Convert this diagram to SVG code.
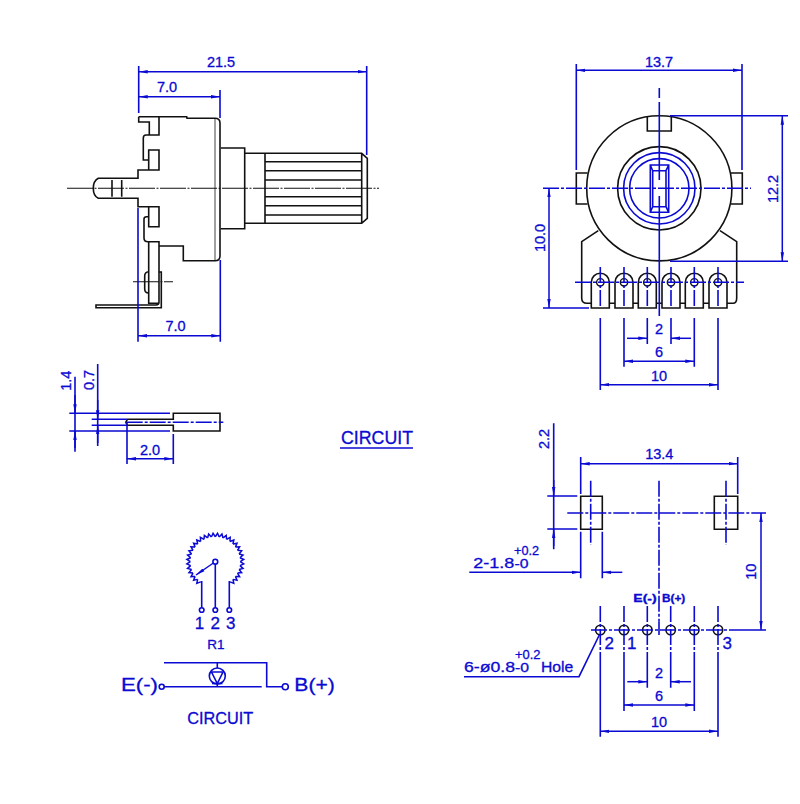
<svg xmlns="http://www.w3.org/2000/svg" xmlns:xlink="http://www.w3.org/1999/xlink" width="800" height="804" viewBox="0 0 800 804">
<style>
text{font-family:"Liberation Sans",Arial,sans-serif;fill:#0a0ad2;stroke:#0a0ad2;stroke-width:.3;font-size:14.5px}
.m{text-anchor:middle}
.k{fill:none;stroke:#111;stroke-width:1.6}
.kt{fill:none;stroke:#111;stroke-width:.8}
.b{fill:none;stroke:#0a0ad2;stroke-width:1.6}
.cl{fill:none;stroke:#0a0ad2;stroke-width:1.6;stroke-dasharray:16 2 3 2}
.ck{fill:none;stroke:#111;stroke-width:1.1;stroke-dasharray:26 1.5 2 1.5}
.d{fill:none;stroke:#0a0ad2;stroke-width:1.5;marker-start:url(#a);marker-end:url(#a)}
.e{fill:none;stroke:#0a0ad2;stroke-width:1.5;marker-end:url(#a)}
.h{fill:#fff;stroke:#0a0ad2;stroke-width:1.6}
</style>
<defs>
<marker id="a" markerUnits="userSpaceOnUse" markerWidth="9" markerHeight="5" refX="9" refY="2.5" orient="auto-start-reverse"><path d="M9 2.5L0 .8V4.2Z" fill="#0a0ad2"/></marker>
<path id="pin" d="M-9 25.7V0A9 9 0 0 1 9 0V25.7Z" fill="#fff" stroke="#111" stroke-width="1.6"/>
<circle id="hole" r="3.7" fill="none" stroke="#111" stroke-width="1.4"/>
<circle id="padhole" r="4.7" fill="none" stroke="#111" stroke-width="1.6"/>
<path id="tooth" d="M-1.96 -24.9L0 -28.5L1.96 -24.9" fill="none" stroke="#0a0ad2" stroke-width="1.5"/>
</defs>
<rect width="800" height="804" fill="#fff"/>

<g id="side-view">
<path class="k" d="M138.7 116.7H186.7L187 118.3H215Q220 118.3 220 123V256Q220 260.7 215 260.7H183.3V246H159"/>
<path class="k" d="M159 116.7V135H149.3V122H138.7V116.7M149.3 135H146Q143.3 135 143.3 138V160H148.7V150H159V170H138V178.3H98.3Q93.3 181 93.3 188.3Q93.3 196 98.3 198.3H138V206.7H159V226.7H148.7V216.7H146.5Q144 216.7 144 219V238Q144 241.7 148 241.7H159V272H161.3V307.7H96V305H156Q159 305 159 302V272M148.7 160V170M148.7 206.7V216.7M148.7 226.7V218M148.7 241.7V303.3H159"/>
<path class="k" d="M148.7 271.7Q144.7 272 144.7 276V289Q144.7 293 148.7 293M112 180V196.7M121.7 180V196.7"/>
<path class="kt" d="M215 118.3V260.7"/>
<path class="k" d="M220.7 148H244.7V228.7H220.7M244.7 153.3H361.7L367.3 158.3V218.3L361.7 223.3H244.7M265 153.3V223.3M361.7 153.3V223.3"/>
<path class="k" d="M265 161.7H361.7M265 170.7H361.7M265 180H361.7M265 196.7H361.7M265 205.7H361.7M265 215H361.7"/>
<path class="ck" d="M67 188.3H379"/>
<path class="ck" d="M133 281.7H173"/>
<path class="b" d="M138.7 66V113M366.7 66V155M220 90V118M138 208V341.7M220.3 260V341.7"/>
<line class="d" x1="138.7" y1="71.7" x2="366.7" y2="71.7"/>
<line class="d" x1="138.7" y1="96.7" x2="220" y2="96.7"/>
<line class="d" x1="138" y1="335.7" x2="220.3" y2="335.7"/>
<text class="m" x="221" y="67">21.5</text>
<text class="m" x="167" y="92">7.0</text>
<text class="m" x="175.5" y="331">7.0</text>
</g>

<g id="front-view">
<circle class="k" cx="659.3" cy="188.3" r="72.6"/>
<circle class="k" cx="659.3" cy="188.3" r="41.7"/>
<circle class="b" cx="659.3" cy="188.3" r="35.7"/>
<circle class="b" cx="659.3" cy="188.3" r="29.7"/>
<path class="k" d="M647.3 117V131H671.3V117M587.5 173H576.3V204H587.5M731 173H742.3V204H731"/>
<path class="k" d="M598.3 230.7L581.7 241.7V298Q581.7 303.3 587 303.3H733Q736.7 303.3 736.7 298V241.7L720 230.7"/>
<path class="b" d="M650.3 165H668.7V212.3H650.3ZM652.7 170.7H666V206.7H652.7ZM650.3 165L652.7 170.7M668.7 165L666 170.7M650.3 212.3L652.7 206.7M668.7 212.3L666 206.7"/>
<use xlink:href="#pin" href="#pin" x="600.3" y="282.3"/>
<use xlink:href="#pin" href="#pin" x="624" y="282.3"/>
<use xlink:href="#pin" href="#pin" x="647.3" y="282.3"/>
<use xlink:href="#pin" href="#pin" x="671" y="282.3"/>
<use xlink:href="#pin" href="#pin" x="694.3" y="282.3"/>
<use xlink:href="#pin" href="#pin" x="718" y="282.3"/>
<use xlink:href="#hole" href="#hole" x="600.3" y="282.3"/>
<use xlink:href="#hole" href="#hole" x="624" y="282.3"/>
<use xlink:href="#hole" href="#hole" x="647.3" y="282.3"/>
<use xlink:href="#hole" href="#hole" x="671" y="282.3"/>
<use xlink:href="#hole" href="#hole" x="694.3" y="282.3"/>
<use xlink:href="#hole" href="#hole" x="718" y="282.3"/>
<path class="b" d="M659.3 88V98M659.3 102V180M659.3 196V300"/>
<path class="cl" d="M659.3 300V317M543 188.3H751M575 282.3H744"/>
<path class="cl" d="M600.3 267V308M718 267V308M624 267V308M694.3 267V308M647.3 267V308M671 267V308"/>
<path class="b" d="M600.3 318V390M718 318V390M624 318V366.7M694.3 318V366.7M647.3 318V344M671 318V344"/>
<path class="b" d="M576.3 64V170M742 64V170M670 115.7H788M670 261.3H788M543 308H589"/>
<line class="d" x1="576.3" y1="70.3" x2="742" y2="70.3"/>
<line class="d" x1="782.3" y1="115.7" x2="782.3" y2="261.3"/>
<line class="d" x1="549" y1="188.3" x2="549" y2="308"/>
<line class="e" x1="627" y1="338.3" x2="647.3" y2="338.3"/>
<line class="e" x1="691" y1="338.3" x2="671" y2="338.3"/>
<line class="d" x1="624" y1="361.3" x2="694.3" y2="361.3"/>
<line class="d" x1="600.3" y1="384.7" x2="718" y2="384.7"/>
<text class="m" x="659" y="66.7">13.7</text>
<text class="m" transform="translate(778 189) rotate(-90)">12.2</text>
<text class="m" transform="translate(545 238) rotate(-90)">10.0</text>
<text class="m" x="659" y="334">2</text>
<text class="m" x="659" y="356.7">6</text>
<text class="m" x="659" y="380.7">10</text>
</g>

<g id="lead-detail">
<path class="k" d="M127.3 419.3H173.3V413.3H220V431H173.3V425.3H127.3L125.8 422.3Z"/>
<path class="b" d="M69.3 413.3H170M69.3 431H170M91.7 419.3H126.7M91.7 425.3H126.7M127 422V464M173.3 434V464"/>
<path class="cl" d="M126.7 422.3H223.3"/>
<path class="b" d="M75 376.7V451.7M97.7 364V446"/>
<line class="e" x1="75" y1="395" x2="75" y2="413.3"/>
<line class="e" x1="75" y1="448" x2="75" y2="431"/>
<line class="e" x1="97.7" y1="400" x2="97.7" y2="419.3"/>
<line class="e" x1="97.7" y1="443" x2="97.7" y2="425.3"/>
<line class="d" x1="127" y1="458.7" x2="173.3" y2="458.7"/>
<text class="m" transform="translate(70.7 380.7) rotate(-90)">1.4</text>
<text class="m" transform="translate(94 380) rotate(-90)">0.7</text>
<text class="m" x="150" y="455">2.0</text>
</g>

<g id="circuit-title">
<text x="341" y="444" style="font-size:18px" textLength="72" lengthAdjust="spacingAndGlyphs">CIRCUIT</text>
<path class="b" d="M340 448H413"/>
</g>

<g id="potentiometer-symbol">
<g transform="translate(215.3 561.7)">
<use href="#tooth" transform="rotate(-139.5)"/><use href="#tooth" transform="rotate(-130.5)"/><use href="#tooth" transform="rotate(-121.5)"/><use href="#tooth" transform="rotate(-112.5)"/>
<use href="#tooth" transform="rotate(-103.5)"/><use href="#tooth" transform="rotate(-94.5)"/><use href="#tooth" transform="rotate(-85.5)"/><use href="#tooth" transform="rotate(-76.5)"/>
<use href="#tooth" transform="rotate(-67.5)"/><use href="#tooth" transform="rotate(-58.5)"/><use href="#tooth" transform="rotate(-49.5)"/><use href="#tooth" transform="rotate(-40.5)"/>
<use href="#tooth" transform="rotate(-31.5)"/><use href="#tooth" transform="rotate(-22.5)"/><use href="#tooth" transform="rotate(-13.5)"/><use href="#tooth" transform="rotate(-4.5)"/>
<use href="#tooth" transform="rotate(4.5)"/><use href="#tooth" transform="rotate(13.5)"/><use href="#tooth" transform="rotate(22.5)"/><use href="#tooth" transform="rotate(31.5)"/>
<use href="#tooth" transform="rotate(40.5)"/><use href="#tooth" transform="rotate(49.5)"/><use href="#tooth" transform="rotate(58.5)"/><use href="#tooth" transform="rotate(67.5)"/>
<use href="#tooth" transform="rotate(76.5)"/><use href="#tooth" transform="rotate(85.5)"/><use href="#tooth" transform="rotate(94.5)"/><use href="#tooth" transform="rotate(103.5)"/>
<use href="#tooth" transform="rotate(112.5)"/><use href="#tooth" transform="rotate(121.5)"/><use href="#tooth" transform="rotate(130.5)"/><use href="#tooth" transform="rotate(139.5)"/>
</g>
<path class="b" d="M200.6 581.9H201.7V607.7M215.3 564V607.7M230 581.9H229.3V607.7"/>
<line class="e" x1="213.4" y1="563" x2="196" y2="575"/>
<circle class="h" cx="215.3" cy="561.7" r="2.4"/>
<circle class="h" cx="201.7" cy="610" r="2.3"/>
<circle class="h" cx="215.3" cy="610" r="2.3"/>
<circle class="h" cx="229.3" cy="610" r="2.3"/>
<text class="m" x="199.5" y="629" style="font-size:17px">1</text>
<text class="m" x="215.3" y="629" style="font-size:17px">2</text>
<text class="m" x="230.7" y="629" style="font-size:17px">3</text>
<text class="m" x="216" y="649.3" style="font-size:13.5px">R1</text>
</g>

<g id="switch-symbol">
<path class="b" d="M164 662.7H266.7V686.7H282.3M164.2 686.7H261.7M217.3 662.7V668M217.3 684V686.7"/>
<circle class="b" cx="217.3" cy="676" r="8"/>
<path class="b" d="M211.5 672H223L217.3 683.5Z"/>
<path class="b" d="M212 683.5H222.5"/>
<circle class="h" cx="161.7" cy="686.7" r="2.5"/>
<circle class="h" cx="285.3" cy="686.7" r="3"/>
<text x="121" y="691" style="font-size:19px" textLength="37" lengthAdjust="spacingAndGlyphs">E(-)</text>
<text x="294.3" y="691" style="font-size:19px" textLength="40.5" lengthAdjust="spacingAndGlyphs">B(+)</text>
<text x="187.3" y="724" style="font-size:16.3px" textLength="66" lengthAdjust="spacingAndGlyphs">CIRCUIT</text>
</g>

<g id="footprint">
<path class="k" d="M580.7 496.3H602.3V529.3H580.7ZM714.3 496.3H737.7V529.3H714.3Z"/>
<path class="cl" d="M567.3 513H766M659 480.7V621.7M590.7 480.7V545M726 480.7V545"/>
<path class="b" d="M659 621.7V635"/>
<use href="#padhole" x="600.3" y="630"/><use href="#padhole" x="624" y="630"/><use href="#padhole" x="647.3" y="630"/><use href="#padhole" x="670.7" y="630"/><use href="#padhole" x="694.3" y="630"/><use href="#padhole" x="718" y="630"/>
<path class="cl" d="M591 630H730"/>
<path class="cl" d="M600.3 606V660M624 606V660M647.3 606V660M670.7 606V660M694.3 606V660M718 606V660"/>
<path class="b" d="M600.3 660V736.7M624 660V711M647.3 660V687.7M670.7 660V687.7M694.3 660V711M718 660V736.7"/>
<path class="b" d="M547.3 496H577.3M547.3 529H577.3M553.7 423.3V549.3M580.7 457V494M737.7 457V494M580.7 531.7V578.3M602.3 531.7V578.3M730 630H766M464 676.7H579L599.3 635"/>
<line class="e" x1="553.7" y1="480" x2="553.7" y2="496"/>
<line class="e" x1="553.7" y1="546" x2="553.7" y2="529"/>
<line class="d" x1="580.7" y1="463.7" x2="737.7" y2="463.7"/>
<line class="e" x1="469.3" y1="572.3" x2="580.7" y2="572.3"/>
<line class="e" x1="622.3" y1="572.3" x2="602.3" y2="572.3"/>
<line class="d" x1="761" y1="513" x2="761" y2="630"/>
<line class="e" x1="627.3" y1="681.7" x2="647.3" y2="681.7"/>
<line class="e" x1="691" y1="681.7" x2="670.7" y2="681.7"/>
<line class="d" x1="624" y1="705" x2="694.3" y2="705"/>
<line class="d" x1="600.3" y1="731.3" x2="718" y2="731.3"/>
<text class="m" transform="translate(549.3 439) rotate(-90)">2.2</text>
<text class="m" x="659.3" y="459.3">13.4</text>
<text class="m" transform="translate(756 571.7) rotate(-90)">10</text>
<text x="473.3" y="568.3" textLength="41" lengthAdjust="spacingAndGlyphs">2-1.8</text>
<text x="514.5" y="568.3" style="font-size:12.5px" textLength="14" lengthAdjust="spacingAndGlyphs">-0</text>
<text x="514" y="554.5" style="font-size:12px" textLength="25" lengthAdjust="spacingAndGlyphs">+0.2</text>
<text x="633.3" y="601.7" style="font-size:10.5px;font-weight:bold" textLength="23.4" lengthAdjust="spacingAndGlyphs">E(-)</text>
<text x="662" y="601.7" style="font-size:10.5px;font-weight:bold" textLength="23.3" lengthAdjust="spacingAndGlyphs">B(+)</text>
<text x="604.5" y="649" style="font-size:17px">2</text>
<text x="627" y="649" style="font-size:17px">1</text>
<text x="722.5" y="649" style="font-size:17px">3</text>
<text x="464" y="672.3" textLength="51" lengthAdjust="spacingAndGlyphs">6-ø0.8</text>
<text x="515" y="672.3" style="font-size:12.5px" textLength="14" lengthAdjust="spacingAndGlyphs">-0</text>
<text x="515" y="658.5" style="font-size:12px" textLength="25.5" lengthAdjust="spacingAndGlyphs">+0.2</text>
<text x="541" y="672.3" textLength="32.3" lengthAdjust="spacingAndGlyphs">Hole</text>
<text class="m" x="659" y="677.7">2</text>
<text class="m" x="659" y="700.7">6</text>
<text class="m" x="659" y="727.3">10</text>
</g>
</svg>
